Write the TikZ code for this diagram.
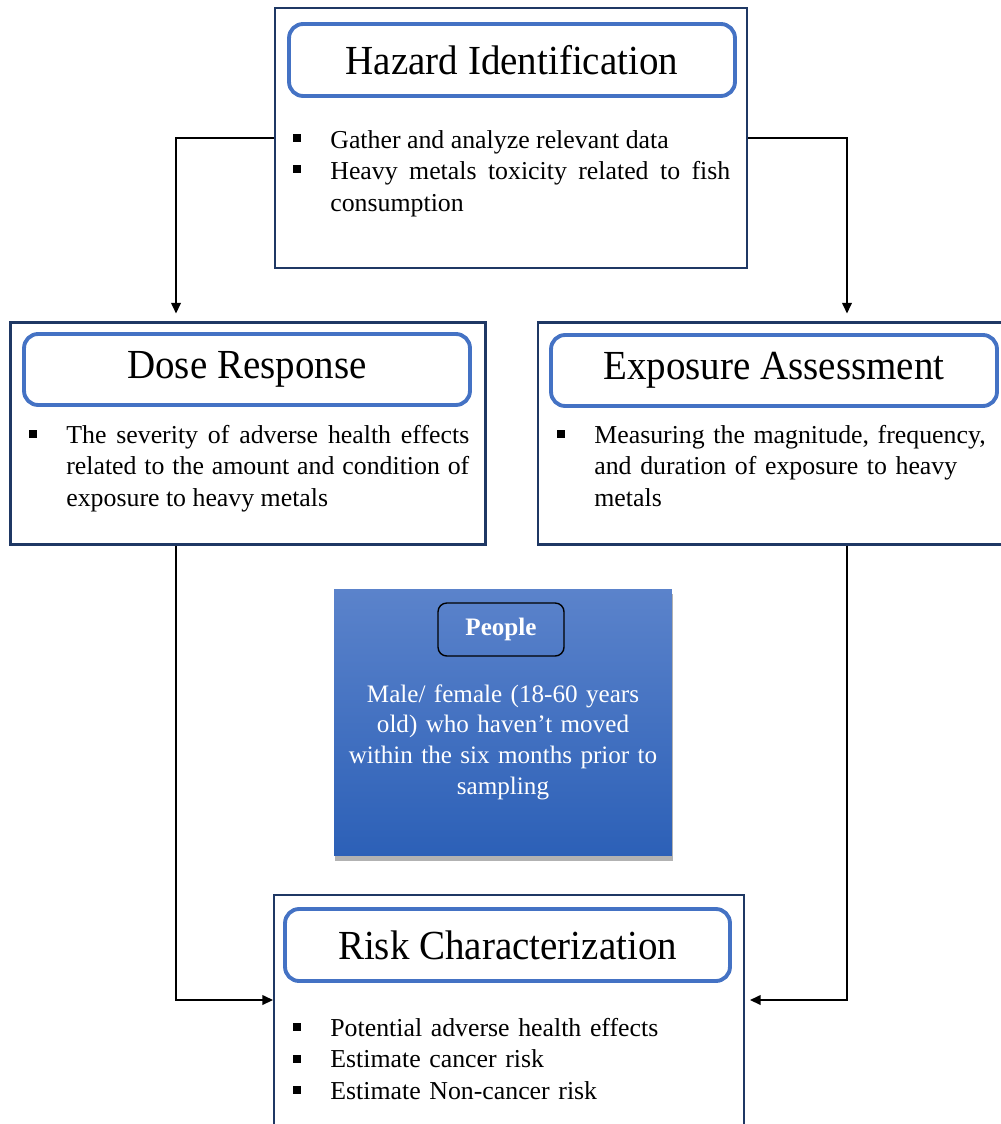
\documentclass[tikz,border=0pt]{standalone}
\usepackage{fontspec}
\setmainfont{Liberation Serif}
\usetikzlibrary{arrows.meta,shadows}
\definecolor{navy}{HTML}{1F3864}
\definecolor{hblue}{HTML}{4472C4}
\definecolor{ptop}{HTML}{5B83CB}
\definecolor{pbot}{HTML}{2C60B7}
\newcommand\mybody{\fontsize{14.7}{17.9}\selectfont}
\newcommand\mytitle{\fontsize{22.2}{26}\selectfont}
\newcommand\mypeople{\fontsize{14.3}{17.6}\selectfont}
\newcommand\ttl[1]{\scalebox{1}[1.06]{#1}}
\begin{document}
\begin{tikzpicture}[x=0.02cm,y=-0.02cm,
  outerbox/.style={draw=navy,line width=1.2pt,fill=white,inner sep=0pt},
  titlebox/.style={draw=hblue,line width=2.2pt,rounded corners=8pt,fill=white,inner sep=0pt,font=\mytitle},
  bodytext/.style={inner sep=0pt,anchor=north west,font=\mybody},
  bul/.style={fill=black,inner sep=0pt,minimum size=4pt,rectangle},
  conn/.style={draw=black,line width=0.8pt,-{Triangle[length=6pt,width=5.5pt]}}
]
\useasboundingbox (0,0) rectangle (1000,1124);

% Hazard Identification
\node[outerbox,minimum width=9.44cm,minimum height=5.2cm] (haz) at (511,138) {};
\node[titlebox,minimum width=8.92cm,minimum height=1.44cm] (hazT) at (512,60) {\ttl{Hazard Identification}};
\node[bul] (hb1) at (297,138) {};
\node[bul] (hb2) at (297,169) {};
\node[bodytext,text width=8cm,align=justify] (htx) at (330,126)
  {\strut Gather and analyze relevant data\\ Heavy metals toxicity related to fish\linebreak consumption};

% Dose Response
\node[outerbox,minimum width=9.5cm,minimum height=4.44cm] (dose) at (248,433.5) {};
\node[titlebox,minimum width=8.92cm,minimum height=1.42cm] (doseT) at (247,369.5) {\ttl{Dose Response}};
\node[bul] (db1) at (33,434) {};
\node[bodytext,text width=8.06cm,align=justify] (dtx) at (66,421)
  {\strut The severity of adverse health effects\linebreak related to the amount and condition of\linebreak exposure to heavy metals};

% Exposure Assessment
\node[outerbox,minimum width=9.44cm,minimum height=4.44cm] (expo) at (774,433.5) {};
\node[titlebox,minimum width=8.92cm,minimum height=1.42cm] (expoT) at (774,370.5) {\ttl{Exposure Assessment}};
\node[bul] (eb1) at (561,434) {};
\node[bodytext,text width=8cm,align=left] (etx) at (594,421)
  {\strut Measuring the magnitude, frequency,\\ and duration of exposure to heavy\\ metals};

% People
\node[inner sep=0pt,top color=ptop,bottom color=pbot,
      drop shadow={shadow xshift=0.5pt,shadow yshift=-3pt,opacity=0.3,fill=black},
      minimum width=6.76cm,minimum height=5.34cm] (ppl) at (503,722.5) {};
\node[draw=black,line width=0.8pt,rounded corners=5pt,minimum width=2.52cm,minimum height=1.06cm,
      inner sep=0pt,font=\mypeople\bfseries,text=white] (pplT) at (501,629.5) {People};
\node[inner sep=0pt,anchor=north,text width=6.3cm,align=center,font=\mypeople,text=white] (pplX) at (503,680)
  {\strut Male/ female (18-60 years\\ old) who haven’t moved\\ within the six months prior to\\ sampling};

% Risk Characterization
\node[outerbox,minimum width=9.4cm,minimum height=5cm] (risk) at (509,1020) {};
\node[titlebox,minimum width=8.9cm,minimum height=1.44cm] (riskT) at (507.5,945) {\ttl{Risk Characterization}};
\node[bul] (rb1) at (297,1027) {};
\node[bul] (rb2) at (297,1059) {};
\node[bul] (rb3) at (297,1090) {};
\node[bodytext,text width=8cm,align=left] (rtx) at (330,1014)
  {\strut Potential adverse health effects\\ Estimate cancer risk\\ Estimate Non-cancer risk};

% Connectors
\draw[conn] (haz.west) -| ([xshift=-1.44cm,yshift=0.16cm]dose.north);
\draw[conn] (haz.east) -| ([xshift=1.46cm,yshift=0.16cm]expo.north);
\draw[conn] ([xshift=-1.44cm]dose.south) |- ([yshift=0.4cm]risk.west);
\draw[conn] ([xshift=1.46cm]expo.south) |- ([xshift=0.1cm,yshift=0.4cm]risk.east);
\end{tikzpicture}
\end{document}
